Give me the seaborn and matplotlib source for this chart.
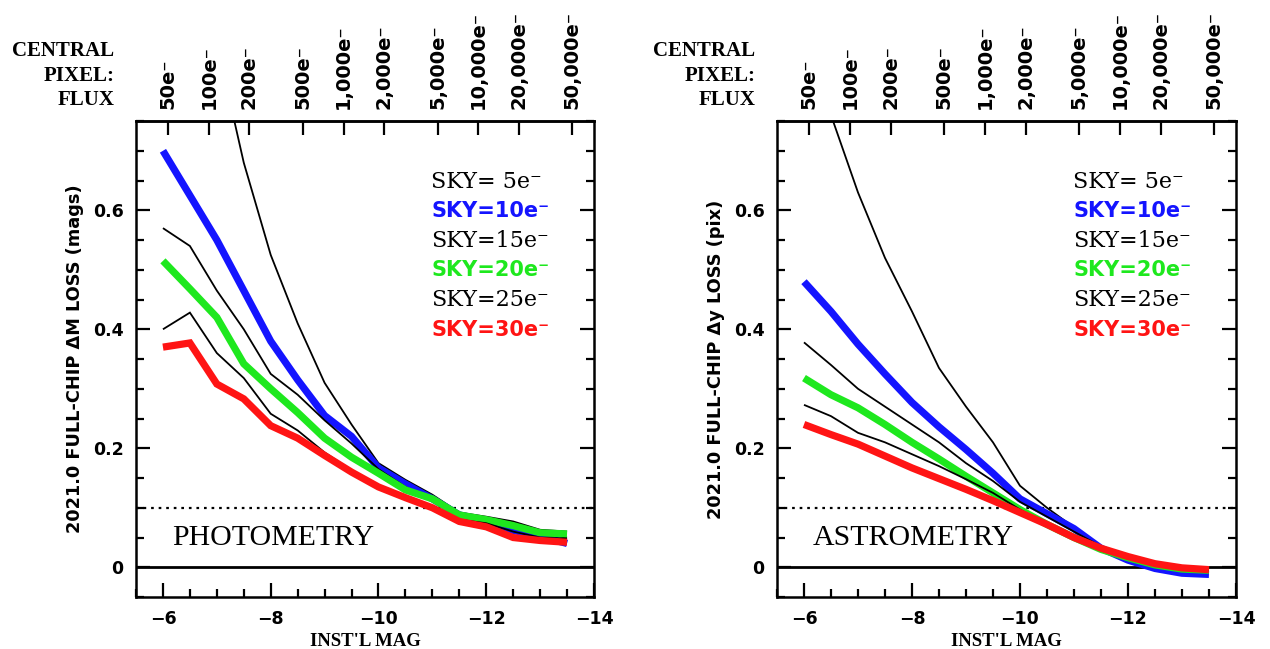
import numpy as np
import pandas as pd
import matplotlib
matplotlib.use("Agg")
import matplotlib.pyplot as plt
import seaborn as sns
from matplotlib.ticker import MultipleLocator, FuncFormatter, NullLocator

# ---------------- data ----------------
mags = [-6.0, -6.5, -7.0, -7.5, -8.0, -8.5, -9.0, -9.5, -10.0, -10.5,
        -11.0, -11.5, -12.0, -12.5, -13.0, -13.5]

sky_levels = [5, 10, 15, 20, 25, 30]

phot_sky5 = [1.20, 1.05, 0.88, 0.68, 0.525, 0.41, 0.31, 0.24, 0.175, 0.147, 0.122, 0.092, 0.085, 0.077, 0.063, 0.060]
phot_sky10 = [0.70, 0.625, 0.55, 0.465, 0.38, 0.315, 0.255, 0.22, 0.167, 0.14, 0.115, 0.088, 0.078, 0.062, 0.052, 0.040]
phot_sky15 = [0.57, 0.54, 0.465, 0.40, 0.325, 0.29, 0.247, 0.208, 0.165, 0.135, 0.112, 0.088, 0.080, 0.068, 0.055, 0.050]
phot_sky20 = [0.515, 0.468, 0.42, 0.342, 0.30, 0.26, 0.217, 0.185, 0.158, 0.13, 0.115, 0.088, 0.080, 0.070, 0.058, 0.056]
phot_sky25 = [0.40, 0.428, 0.36, 0.318, 0.258, 0.23, 0.193, 0.163, 0.138, 0.118, 0.100, 0.080, 0.074, 0.060, 0.050, 0.048]
phot_sky30 = [0.37, 0.377, 0.308, 0.283, 0.238, 0.217, 0.188, 0.16, 0.135, 0.117, 0.100, 0.077, 0.068, 0.050, 0.045, 0.042]

astr_sky5 = [0.92, 0.76, 0.63, 0.52, 0.43, 0.335, 0.27, 0.21, 0.137, 0.10, 0.067, 0.035, 0.018, 0.005, -0.005, -0.008]
astr_sky10 = [0.48, 0.43, 0.375, 0.325, 0.277, 0.236, 0.198, 0.158, 0.115, 0.09, 0.065, 0.032, 0.012, -0.002, -0.010, -0.012]
astr_sky15 = [0.378, 0.34, 0.30, 0.27, 0.24, 0.21, 0.175, 0.145, 0.11, 0.085, 0.06, 0.035, 0.017, 0.004, -0.004, -0.006]
astr_sky20 = [0.318, 0.29, 0.268, 0.24, 0.21, 0.182, 0.153, 0.125, 0.097, 0.072, 0.05, 0.030, 0.016, 0.004, -0.003, -0.005]
astr_sky25 = [0.273, 0.254, 0.226, 0.21, 0.19, 0.17, 0.148, 0.125, 0.097, 0.072, 0.05, 0.030, 0.016, 0.004, -0.003, -0.005]
astr_sky30 = [0.24, 0.223, 0.207, 0.187, 0.167, 0.149, 0.131, 0.112, 0.092, 0.072, 0.05, 0.032, 0.018, 0.006, -0.001, -0.004]

flux_ticks = [50, 100, 200, 500, 1000, 2000, 5000, 10000, 20000, 50000]
flux_labels = ["50e⁻", "100e⁻", "200e⁻", "500e⁻", "1,000e⁻", "2,000e⁻",
               "5,000e⁻", "10,000e⁻", "20,000e⁻", "50,000e⁻"]

legend_labels = ["SKY= 5e⁻", "SKY=10e⁻", "SKY=15e⁻", "SKY=20e⁻", "SKY=25e⁻", "SKY=30e⁻"]

# ---------------- style ----------------
sns.set_style("ticks")
SANS = ["DejaVu Sans"]
SERIF_T = ["Liberation Serif", "DejaVu Serif"]
SERIF_W = ["DejaVu Serif"]
plt.rcParams["font.family"] = SANS
for key in ["text.color", "axes.labelcolor", "xtick.color", "ytick.color", "axes.edgecolor"]:
    plt.rcParams[key] = "black"

colors = ["black", "#1414ff", "black", "#1ee81e", "black", "#ff1414"]
widths = [1.3, 5.2, 1.3, 5.2, 1.3, 5.2]
text_styles = [("serif", "normal"), ("sans", "bold"), ("serif", "normal"),
               ("sans", "bold"), ("serif", "normal"), ("sans", "bold")]

MAG0 = -6.1  # magnitude of a 50e- central-pixel star


def flux_to_mag(f):
    f = np.asarray(f, dtype=float)
    return MAG0 - 2.5 * np.log10(np.clip(f, 1e-9, None) / 50.0)


def mag_to_flux(m):
    m = np.asarray(m, dtype=float)
    return 50.0 * 10 ** ((MAG0 - m) / 2.5)


fig = plt.figure(figsize=(12.7, 6.49), dpi=100)
fig.patch.set_facecolor("white")
axL = fig.add_axes([0.1071, 0.0801, 0.3606, 0.7334])
axR = fig.add_axes([0.6118, 0.0801, 0.3614, 0.7334])

panels = [
    (axL, [phot_sky5, phot_sky10, phot_sky15, phot_sky20, phot_sky25, phot_sky30],
     "2021.0 FULL-CHIP ΔM LOSS (mags)", "PHOTOMETRY"),
    (axR, [astr_sky5, astr_sky10, astr_sky15, astr_sky20, astr_sky25, astr_sky30],
     "2021.0 FULL-CHIP Δy LOSS (pix)", "ASTROMETRY"),
]

AX_H_PX = 0.7334 * 649

for ax, series, ylab, title in panels:
    for vals, c, lw in zip(series, colors, widths):
        df = pd.DataFrame({"mag": mags, "loss": vals})
        sns.lineplot(data=df, x="mag", y="loss", ax=ax, color=c, lw=lw,
                     solid_capstyle="butt", solid_joinstyle="miter", sort=False)
    ax.axhline(0.0, color="black", lw=2.0, zorder=1)
    ax.axhline(0.1, color="black", lw=1.6, ls=(0, (1.2, 2.2)), zorder=1)

    ax.set_xlim(-5.5, -14)
    ax.set_ylim(-0.05, 0.75)
    ax.xaxis.set_major_locator(MultipleLocator(2))
    ax.xaxis.set_minor_locator(MultipleLocator(0.5))
    ax.yaxis.set_major_locator(MultipleLocator(0.2))
    ax.yaxis.set_minor_locator(MultipleLocator(0.05))
    ax.xaxis.set_major_formatter(FuncFormatter(lambda v, p: f"{v:.0f}".replace("-", "−")))
    ax.yaxis.set_major_formatter(FuncFormatter(lambda v, p: "0" if abs(v) < 1e-9 else f"{v:.1f}"))
    ax.tick_params(axis="both", which="major", direction="in", length=10, width=1.6,
                   labelsize=12.5, pad=9, right=True, top=False, colors="black")
    ax.tick_params(axis="both", which="minor", direction="in", length=5.5, width=1.6,
                   right=True, top=False, colors="black")
    for lab in ax.get_xticklabels() + ax.get_yticklabels():
        lab.set_fontweight("bold")
    for sp in ax.spines.values():
        sp.set_linewidth(1.8)
        sp.set_color("black")
        sp.set_visible(True)

    ax.set_xlabel("INST'L MAG", fontsize=13.5, fontweight="bold", family=SERIF_T,
                  labelpad=4, color="black")
    ax.set_ylabel(ylab, fontsize=12.8, fontweight="bold", labelpad=6, color="black")

    # top axis: central pixel flux
    sec = ax.secondary_xaxis("top", functions=(mag_to_flux, flux_to_mag))
    sec.set_xticks(flux_ticks)
    sec.set_xticklabels(flux_labels, rotation=90, fontsize=14, fontweight="bold", color="black")
    sec.xaxis.set_minor_locator(NullLocator())
    sec.tick_params(axis="x", which="major", direction="in", length=10, width=1.6, pad=9,
                    colors="black")
    sec.spines["top"].set_linewidth(1.8)
    sec.spines["top"].set_color("black")

    ax.text(-0.047, 1.0 + 11 / AX_H_PX, "CENTRAL\nPIXEL:\nFLUX", transform=ax.transAxes,
            ha="right", va="bottom", fontsize=15, fontweight="bold", family=SERIF_T,
            linespacing=1.3, color="black")

    for i, (lab, c, (fam, wt)) in enumerate(zip(legend_labels, colors, text_styles)):
        ax.text(0.645, 0.872 - i * 0.062, lab, transform=ax.transAxes, color=c,
                fontsize=16 if fam == "serif" else 15, fontweight=wt,
                family=SERIF_W if fam == "serif" else SANS, va="center", ha="left")

    ax.text(0.078, 0.124, title, transform=ax.transAxes, fontsize=21.5,
            family=SERIF_T, va="center", ha="left", color="black")

fig.savefig("out.png", dpi=100)
